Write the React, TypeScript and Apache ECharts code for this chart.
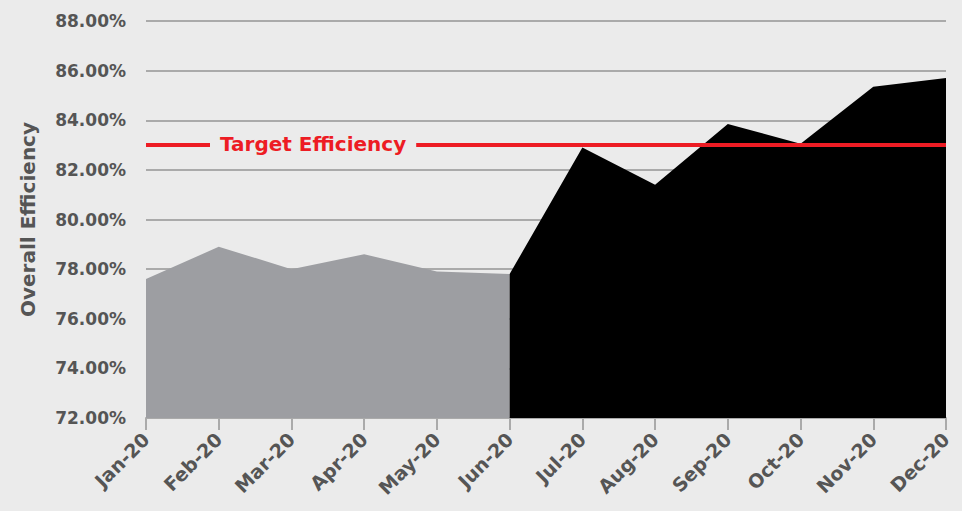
import React, { useEffect, useRef } from "react";
import * as echarts from "echarts";

const categories = ["Jan-20", "Feb-20", "Mar-20", "Apr-20", "May-20", "Jun-20", "Jul-20", "Aug-20", "Sep-20", "Oct-20", "Nov-20", "Dec-20"];
const firstHalf = [77.6, 78.9, 78.0, 78.6, 77.9, 77.8, null, null, null, null, null, null];
const secondHalf = [null, null, null, null, null, 77.8, 82.9, 81.4, 83.85, 83.05, 85.35, 85.7];
const target = 83;
const targetLabel = "Target Efficiency";
const yMin = 72;
const yMax = 88;
const yStep = 2;

const FONT = "DejaVu Sans";
const BG = "#ebebeb";

export default function App() {
  const ref = useRef<HTMLDivElement>(null);
  useEffect(() => {
    if (!ref.current) return;
    const chart = echarts.init(ref.current, null, { renderer: "svg" });
    chart.setOption({
      animation: false,
      backgroundColor: BG,
      grid: { left: 146, right: 16, top: 21, bottom: 93, containLabel: false },
      xAxis: {
        type: "category",
        data: categories,
        boundaryGap: false,
        axisLine: { show: true, lineStyle: { color: "#aaaaaa", width: 2 } },
        axisTick: { show: true, length: 12, lineStyle: { color: "#aaaaaa", width: 2 } },
        axisLabel: {
          rotate: 45,
          color: "#555555",
          fontFamily: FONT,
          fontWeight: "bold",
          fontSize: 19,
          margin: 18,
          interval: 0,
        },
        splitLine: { show: false },
      },
      yAxis: {
        type: "value",
        min: yMin,
        max: yMax,
        interval: yStep,
        name: "Overall Efficiency",
        nameLocation: "middle",
        nameGap: 108,
        nameTextStyle: { color: "#555555", fontFamily: FONT, fontWeight: "bold", fontSize: 20 },
        axisLine: { show: false },
        axisTick: { show: false },
        axisLabel: {
          color: "#555555",
          fontFamily: FONT,
          fontWeight: "bold",
          fontSize: 17,
          margin: 20,
          formatter: (v: number) => v.toFixed(2) + "%",
        },
        splitLine: { show: true, lineStyle: { color: "#aaaaaa", width: 2 } },
      },
      series: [
        {
          type: "line",
          data: firstHalf,
          symbol: "none",
          lineStyle: { width: 0 },
          areaStyle: { color: "#9d9ea2", opacity: 1, origin: "start" },
          z: 2,
        },
        {
          type: "line",
          data: secondHalf,
          symbol: "none",
          lineStyle: { width: 0 },
          areaStyle: { color: "#000000", opacity: 1, origin: "start" },
          z: 3,
          markLine: {
            silent: true,
            symbol: "none",
            label: { show: false },
            lineStyle: { color: "#ed1c24", width: 4, type: "solid" },
            data: [{ yAxis: target }],
            z: 5,
          },
        },
      ],
    });
    const y = chart.convertToPixel({ yAxisIndex: 0 }, target) as number;
    chart.setOption({
      graphic: [
        {
          type: "text",
          left: 210,
          top: y - 14,
          z: 100,
          style: {
            text: targetLabel,
            fill: "#ed1c24",
            font: `bold 20px "${FONT}"`,
            backgroundColor: BG,
            padding: [3, 10, 3, 10],
          },
        },
      ],
    });
    return () => chart.dispose();
  }, []);
  return <div ref={ref} style={{ width: 962, height: 511, position: "absolute", left: 0, top: 0 }} />;
}
